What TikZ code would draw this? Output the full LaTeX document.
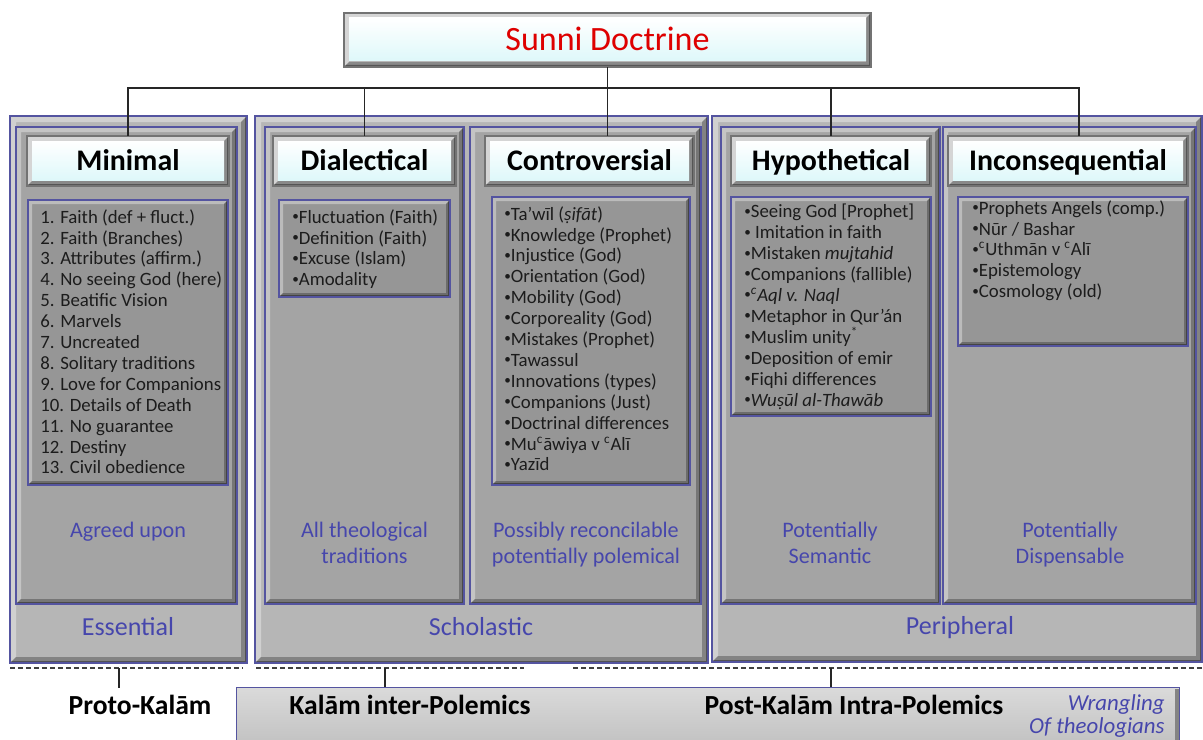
\documentclass[tikz,border=0pt]{standalone}
\usepackage{fontspec}
\setmainfont{Carlito}

\definecolor{edgeblue}{RGB}{84,84,160}
\definecolor{groupgray}{RGB}{182,182,182}
\definecolor{columngray}{RGB}{164,164,164}
\definecolor{listgray}{RGB}{150,150,150}
\definecolor{headgray}{RGB}{190,190,190}
\definecolor{headcyan}{RGB}{222,248,250}
\definecolor{noteblue}{RGB}{70,70,172}
\definecolor{doctrinered}{RGB}{222,0,0}
\definecolor{listink}{RGB}{28,28,28}
\definecolor{barlight}{RGB}{218,218,218}
\definecolor{bardark}{RGB}{188,188,188}

% raised panel: corners, face colour, bevel width, outline colour
\newcommand{\bevelbox}[7]{%
	\fill [#5] (#1, #2) rectangle (#3, #4);
	\fill [#5!65!white] (#1, #4) -- (#1, #2) -- (#3, #2) -- ({#3 - #6}, {#2 + #6}) -- ({#1 + #6}, {#2 + #6}) -- ({#1 + #6}, {#4 - #6}) -- cycle;
	\fill [#5!72!black] (#3, #2) -- (#3, #4) -- (#1, #4) -- ({#1 + #6}, {#4 - #6}) -- ({#3 - #6}, {#4 - #6}) -- ({#3 - #6}, {#2 + #6}) -- cycle;
	\fill [#5!45!black] (#3, #2) -- (#3, #4) -- (#1, #4) -- ({#1 + 2}, {#4 - 2}) -- ({#3 - 2}, {#4 - 2}) -- ({#3 - 2}, {#2 + 2}) -- cycle;
	\draw [#7, line width = 0.8pt] (#1, #2) rectangle (#3, #4);
}

% white title plate
\newcommand{\headerbox}[4]{%
	\bevelbox{#1}{#2}{#3}{#4}{headgray}{5}{black!55}
	\shade [top color = white, bottom color = headcyan] ({#1 + 5}, {#2 + 5}) rectangle ({#3 - 5}, {#4 - 6});
}

\newcommand{\dotitem}{\raisebox{0.3ex}{\fontsize{7.5}{7.5}\selectfont •}}
\newcommand{\ayn}{\textsuperscript{c}}

\tikzset{
	title/.style = {font = \fontsize{19.4}{22}\selectfont, text = doctrinered, minimum height = 1.08cm, text height = 14.5pt, text depth = 2.1pt, inner sep = 0pt},
	head/.style = {font = \fontsize{17}{20}\selectfont\bfseries, minimum height = 1cm, text height = 13pt, text depth = 2.2pt, inner sep = 0pt},
	items/.style = {font = \fontsize{10.7}{11.9}\selectfont, text = listink, align = left, anchor = north west, inner sep = 0pt},
	note/.style = {font = \fontsize{12.6}{14.6}\selectfont, text = noteblue, align = center, anchor = north, inner sep = 0pt},
	band/.style = {font = \fontsize{14.8}{17}\selectfont, text = noteblue, text height = 10pt, text depth = 3pt},
	era/.style = {font = \fontsize{15.7}{18}\selectfont\bfseries, minimum height = 0.68cm, inner sep = 0pt},
	link/.style = {draw = black!85, line width = 0.6pt},
	eraline/.style = {draw = black!75, line width = 0.6pt, dash pattern = on 0.1cm off 0.06cm}
}

\begin{document}
\begin{tikzpicture}[x = 0.02cm, y = -0.02cm]

	\clip (0, 0) rectangle (1203, 740);

	% Title

	\headerbox{344}{13}{871}{67}
	\node [title] (sunni) at (607.5, 40) {Sunni Doctrine};

	% Groups

	\bevelbox{10}{116}{247}{663}{groupgray}{6}{edgeblue}
	\bevelbox{255}{116}{708}{663}{groupgray}{6}{edgeblue}
	\bevelbox{712}{116}{1202}{662}{groupgray}{6}{edgeblue}

	% Columns

	\bevelbox{16}{127}{237}{604}{columngray}{5}{edgeblue}
	\bevelbox{265}{127}{464}{604}{columngray}{5}{edgeblue}
	\bevelbox{470}{127}{701}{604}{columngray}{5}{edgeblue}
	\bevelbox{721}{127}{940}{604}{columngray}{5}{edgeblue}
	\bevelbox{943}{127}{1196}{604}{columngray}{5}{edgeblue}

	% Column headers

	\headerbox{27}{136}{229}{186}
	\headerbox{273}{136}{456}{186}
	\headerbox{485}{136}{694}{186}
	\headerbox{731}{136}{931}{186}
	\headerbox{948}{136}{1188}{186}
	\node [head] (minimal) at (128, 161) {Minimal};
	\node [head] (dialectical) at (364.5, 161) {Dialectical};
	\node [head] (controversial) at (589.5, 161) {Controversial};
	\node [head] (hypothetical) at (831, 161) {Hypothetical};
	\node [head] (inconsequential) at (1068, 161) {Inconsequential};

	% Issue lists

	\bevelbox{28}{200}{228}{485}{listgray}{4}{edgeblue}
	\node [items] (minimallist) at (40, 209) {1. Faith (def + fluct.)\\2. Faith (Branches)\\3. Attributes (affirm.)\\4. No seeing God (here)\\5. Beatific Vision\\6. Marvels\\7. Uncreated\\8. Solitary traditions\\9. Love for Companions\\10. Details of Death\\11. No guarantee\\12. Destiny\\13. Civil obedience};

	\bevelbox{279}{200}{450}{297}{listgray}{4}{edgeblue}
	\node [items] (dialecticallist) at (292, 209) {\dotitem Fluctuation (Faith)\\\dotitem Definition (Faith)\\\dotitem Excuse (Islam)\\\dotitem Amodality};

	\bevelbox{492}{197}{690}{485}{listgray}{4}{edgeblue}
	\node [items] (controversiallist) at (504, 206) {\dotitem Ta’wīl (\textit{ṣifāt})\\\dotitem Knowledge (Prophet)\\\dotitem Injustice (God)\\\dotitem Orientation (God)\\\dotitem Mobility (God)\\\dotitem Corporeality (God)\\\dotitem Mistakes (Prophet)\\\dotitem Tawassul\\\dotitem Innovations (types)\\\dotitem Companions (Just)\\\dotitem Doctrinal differences\\\dotitem Mu\ayn āwiya v \ayn Alī\\\dotitem Yazīd};

	\bevelbox{731}{197}{931}{416}{listgray}{4}{edgeblue}
	\node [items] (hypotheticallist) at (744, 204) {\dotitem Seeing God [Prophet]\\\dotitem\ Imitation in faith\\\dotitem Mistaken \textit{mujtahid}\\\dotitem Companions (fallible)\\\dotitem\textit{\ayn Aql v. Naql}\\\dotitem Metaphor in Qur’án\\\dotitem Muslim unity\textsuperscript{*}\\\dotitem Deposition of emir\\\dotitem Fiqhi differences\\\dotitem\textit{Wuṣūl al-Thawāb}};

	\bevelbox{958}{197}{1188}{346}{listgray}{4}{edgeblue}
	\node [items] (inconsequentiallist) at (972, 200) {\dotitem Prophets Angels (comp.)\\\dotitem Nūr / Bashar\\\dotitem\ayn Uthmān v \ayn Alī\\\dotitem Epistemology\\\dotitem Cosmology (old)};

	% Column notes

	\node [note] (agreed) at (128, 522) {Agreed upon};
	\node [note] (alltraditions) at (364.5, 522) {All theological\\traditions};
	\node [note] (reconcilable) at (586, 522) {Possibly reconcilable\\potentially polemical};
	\node [note] (semantic) at (830, 522) {Potentially\\Semantic};
	\node [note] (dispensable) at (1070, 522) {Potentially\\Dispensable};

	% Group names

	\node [band] (essential) at (128, 629) {Essential};
	\node [band] (scholastic) at (481, 629) {Scholastic};
	\node [band] (peripheral) at (960, 628) {Peripheral};

	% Tree

	\coordinate (bus) at (607, 88);
	\draw [link] (sunni.south) -- (sunni.south |- controversial.north);
	\draw [link] (minimal.north) |- ([xshift = 0.22cm] inconsequential.north |- bus) -- ([xshift = 0.22cm] inconsequential.north);
	\draw [link] (dialectical.north) -- (dialectical.north |- bus);
	\draw [link] (hypothetical.north) -- (hypothetical.north |- bus);

	% Eras

	\draw [eraline] (10, 668) -- (243, 668);
	\draw [eraline] (256, 668) -- (524, 668);
	\draw [eraline] (573, 668) -- (1203, 668);
	\coordinate (prototick) at (119, 668);
	\coordinate (kalamtick) at (385, 668);
	\coordinate (posttick) at (831, 668);

	\node [draw = edgeblue, line width = 0.8pt, top color = barlight, bottom color = bardark, minimum width = 18.86cm, minimum height = 1.4cm, anchor = north west, inner sep = 0pt] (polemics) at (236, 687) {};
	\fill [bardark!70!black] (1175, 689) rectangle (1178.5, 740);
	\node [era] (proto) at (140, 705) {Proto-Kalām};
	\node [era] (inter) at (410, 705) {Kalām inter-Polemics};
	\node [era] (intra) at (854, 705) {Post-Kalām Intra-Polemics};
	\node [font = \fontsize{13}{13.6}\selectfont\itshape, text = noteblue, align = right, anchor = east, inner sep = 0pt] (wrangling) at (1165, 716) {Wrangling\\Of theologians};

	\draw [link] (prototick) -- (prototick |- proto.north);
	\draw [link] (kalamtick) -- (kalamtick |- polemics.north);
	\draw [link] (posttick) -- (posttick |- polemics.north);

\end{tikzpicture}
\end{document}
